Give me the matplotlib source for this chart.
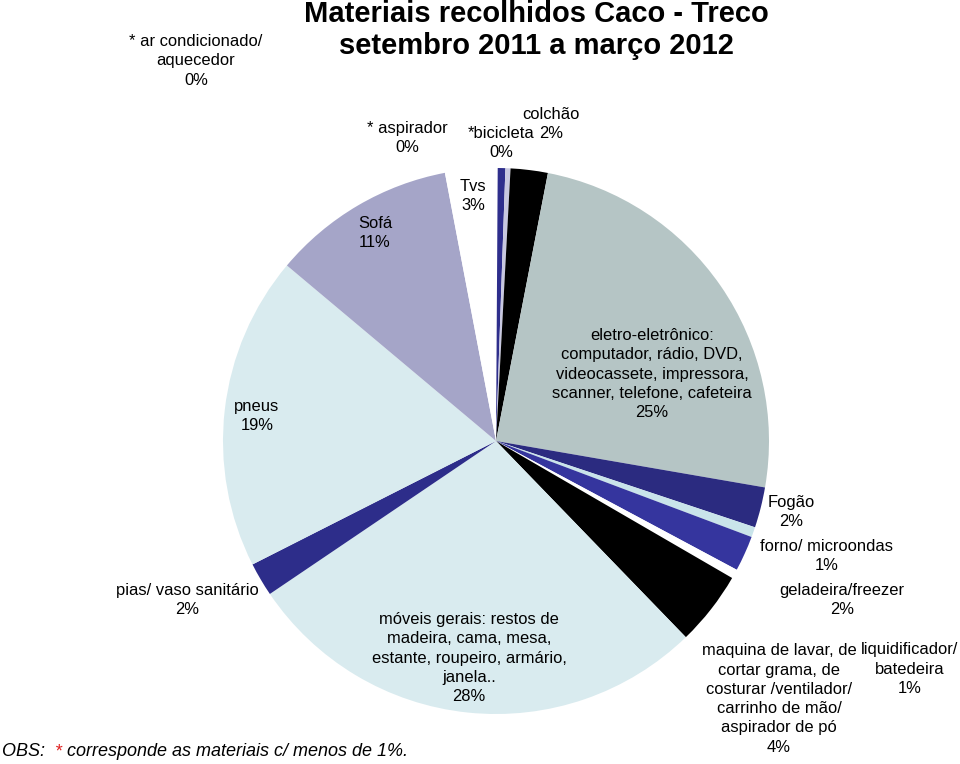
import matplotlib
matplotlib.use("Agg")
import matplotlib.pyplot as plt

plt.rcParams['font.family'] = ['Liberation Sans', 'DejaVu Sans']

categories = [
    "* ar condicionado/\naquecedor",
    "* aspirador",
    "*bicicleta",
    "colchão",
    "eletro-eletrônico:\ncomputador, rádio, DVD,\nvideocassete, impressora,\nscanner, telefone, cafeteira",
    "Fogão",
    "forno/ microondas",
    "geladeira/freezer",
    "liquidificador/\nbatedeira",
    "maquina de lavar, de\ncortar grama, de\ncosturar /ventilador/\ncarrinho de mão/\naspirador de pó",
    "móveis gerais: restos de\nmadeira, cama, mesa,\nestante, roupeiro, armário,\njanela..",
    "pias/ vaso sanitário",
    "pneus",
    "Sofá",
    "Tvs",
]
values = [0.1, 0.45, 0.3, 2.2, 24.7, 2.4, 0.6, 2.1, 0.55, 4.4, 27.8, 2.0, 18.6, 10.9, 3.0]
colors = ['#ffffff', '#2e2e8c', '#c8c8e0', '#000000', '#b5c5c5', '#2b2b80', '#c9e4ea',
          '#35359e', '#ffffff', '#000000', '#d9ebef', '#2d2d8a', '#d9ebef', '#a5a5c8', '#ffffff']
# label centers in pixel coordinates (layout only)
label_px = [(196, 61), (407, 138), (501, 143), (551, 124), (652, 374), (791, 512),
            (827, 556), (842, 600), (910, 669), (779, 699), (469, 658), (187, 600),
            (257, 416), (375, 233), (473, 196)]

W, H = 960, 764
fig = plt.figure(figsize=(W / 100, H / 100), dpi=100)
cx, cy, r = 496, 441, 273
ax = fig.add_axes([(cx - r) / W, (H - cy - r) / H, 2 * r / W, 2 * r / H])
ax.pie(values, colors=colors, startangle=90, counterclock=False, radius=1,
       wedgeprops=dict(linewidth=0))
ax.set_xlim(-1, 1)
ax.set_ylim(-1, 1)
ax.set_aspect('equal')
ax.axis('off')

total = sum(values)
for name, v, (px, py) in zip(categories, values, label_px):
    pct = int(round(v / total * 100))
    fig.text(px / W, 1 - py / H, f"{name}\n{pct}%", ha='center', va='center',
             fontsize=11.9, linespacing=1.36, color='black')

fig.text(536 / W, 1 - 30 / H, "Materiais recolhidos Caco - Treco\nsetembro 2011 a março 2012",
         ha='center', va='center', fontsize=21, fontweight='bold', linespacing=1.15)

oy = 1 - 752 / H
t1 = fig.text(2 / W, oy, "OBS:  ", ha='left', va='center', fontsize=13, style='italic')
fig.canvas.draw()
bb = t1.get_window_extent()
t2 = fig.text(bb.x1 / W, oy, "*", ha='left', va='center', fontsize=13, style='italic', color='#e02020')
bb2 = t2.get_window_extent()
fig.text(bb2.x1 / W, oy, " corresponde as materiais c/ menos de 1%.", ha='left', va='center',
         fontsize=13, style='italic')

fig.savefig("out.png", dpi=100, facecolor='white')
